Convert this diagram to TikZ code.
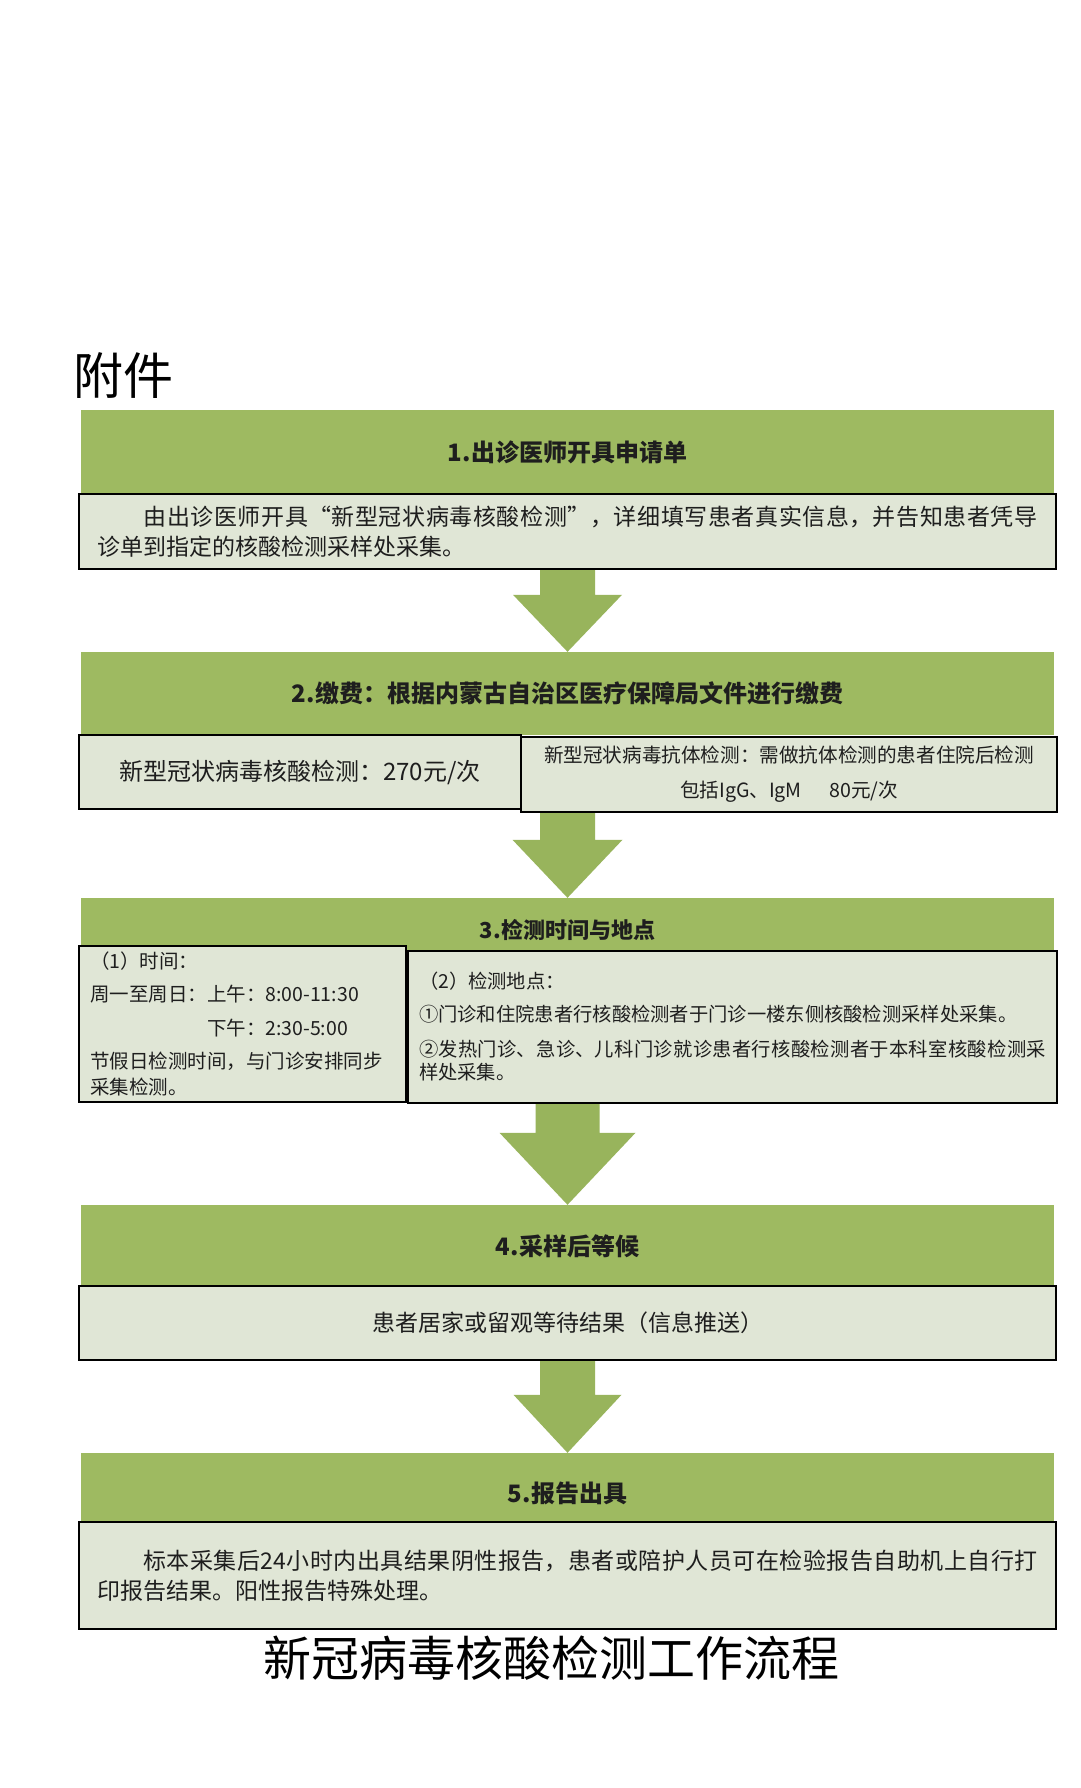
\documentclass[tikz,border=0pt]{standalone}
\usepackage{fontspec}
\setmainfont{Noto Sans CJK SC}
\XeTeXlinebreaklocale "zh"
\XeTeXlinebreakskip=0pt plus 3pt
\usetikzlibrary{calc,backgrounds}
\definecolor{hdrgreen}{RGB}{158,186,97}
\definecolor{arrgreen}{RGB}{152,180,92}
\definecolor{subfill}{RGB}{224,230,214}
\definecolor{ink}{RGB}{30,30,30}
\newcommand\blockarrow[5]{%
  \fill[arrgreen] let \p1=#1, \p2=#2 in
   (\x1-#3pt,\y1) -- (\x1+#3pt,\y1) -- (\x1+#3pt,\y2+#5pt) -- (\x1+#4pt,\y2+#5pt)
   -- (\x1,\y2) -- (\x1-#4pt,\y2+#5pt) -- (\x1-#3pt,\y2+#5pt) -- cycle;}
\begin{document}
\begin{tikzpicture}[x=1pt,y=-1pt,
  hdr/.style={fill=hdrgreen, inner sep=0pt, minimum width=973pt, text=ink,
    font=\bfseries\fontsize{24}{28}\selectfont},
  subbox/.style={draw=black, line width=1.8pt, fill=subfill, inner xsep=15pt, inner ysep=0pt, text=ink},
  bodyfont/.style={font=\fontsize{23}{30}\selectfont},
  smallfont/.style={font=\fontsize{19.5}{26}\selectfont}
]
\useasboundingbox (0,0) rectangle (1080,1788);

\node[font=\fontsize{50}{55}\selectfont, anchor=west, inner sep=0pt, text=black] (fujian) at (73,376) {附件};

% step 1
\node[hdr, minimum height=84pt] (hdr1) at (567.5,452) {1.出诊医师开具申请单};
\node[subbox, bodyfont, minimum width=977pt, minimum height=75pt, text width=940pt, align=justify] (sub1) at (567.5,531.5)
  {\hspace*{2em}由出诊医师开具“新型冠状病毒核酸检测”，详细填写患者真实信息，并告知患者凭导\linebreak 诊单到指定的核酸检测采样处采集。};

% step 2
\node[hdr, minimum height=83pt] (hdr2) at (567.5,693.5) {2.缴费：根据内蒙古自治区医疗保障局文件进行缴费};
\node[subbox, font=\fontsize{24}{28}\selectfont, minimum width=442pt, minimum height=74pt] (sub2L) at (300,772)
  {新型冠状病毒核酸检测：270元/次};
\node[subbox, font=\fontsize{19.6}{35}\selectfont, minimum width=536pt, minimum height=75pt, align=center] (sub2R) at (789,774.5)
  {新型冠状病毒抗体检测：需做抗体检测的患者住院后检测\\包括IgG、IgM\hspace{1.4em}80元/次};

% step 3
\node[hdr, minimum height=64pt, font=\bfseries\fontsize{22}{26}\selectfont] (hdr3) at (567.5,930) {3.检测时间与地点};
\node[subbox, smallfont, inner xsep=11pt, minimum width=327pt, minimum height=156pt, text width=305pt, align=left] (sub3L) at (242.5,1024)
  {（1）时间：\\[7pt]
   周一至周日：上午：8:00-11:30\\[8pt]
   \hspace*{6em}下午：2:30-5:00\\[7pt]
   节假日检测时间，与门诊安排同步\\
   采集检测。};
\node[subbox, font=\fontsize{19.3}{23}\selectfont, inner xsep=11pt, minimum width=649pt, minimum height=152pt, text width=627pt, align=justify] (sub3R) at (732.5,1027)
  {（2）检测地点：\\[10pt]
   ①门诊和住院患者行核酸检测者于门诊一楼东侧核酸检测采样处采集。\\[12pt]
   ②发热门诊、急诊、儿科门诊就诊患者行核酸检测者于本科室核酸检测采\linebreak 样处采集。};

% step 4
\node[hdr, minimum height=83pt] (hdr4) at (567.5,1246.5) {4.采样后等候};
\node[subbox, bodyfont, minimum width=977pt, minimum height=74pt] (sub4) at (567.5,1323)
  {患者居家或留观等待结果（信息推送）};

% step 5
\node[hdr, minimum height=80pt] (hdr5) at (567.5,1493) {5.报告出具};
\node[subbox, bodyfont, minimum width=977pt, minimum height=107pt, text width=940pt, align=justify] (sub5) at (567.5,1575.5)
  {\hspace*{2em}标本采集后24小时内出具结果阴性报告，患者或陪护人员可在检验报告自助机上自行打\linebreak 印报告结果。阳性报告特殊处理。};

\node[font=\fontsize{48}{52}\selectfont, text=black, inner sep=0pt] (title) at (551,1658) {新冠病毒核酸检测工作流程};

\begin{pgfonlayer}{background}
  \fill[white] (0,0) rectangle (1080,1788);
  \blockarrow{(sub1.south)}{(hdr2.north)}{27.5}{54.5}{57}
  \blockarrow{(hdr2.center |- sub2R.south)}{(hdr3.north)}{27.5}{55}{58}
  \blockarrow{(hdr3.center |- sub3R.south)}{(hdr4.north)}{32}{68}{72}
  \blockarrow{(sub4.south)}{(hdr5.north)}{27.5}{54}{58}
\end{pgfonlayer}
\end{tikzpicture}
\end{document}
